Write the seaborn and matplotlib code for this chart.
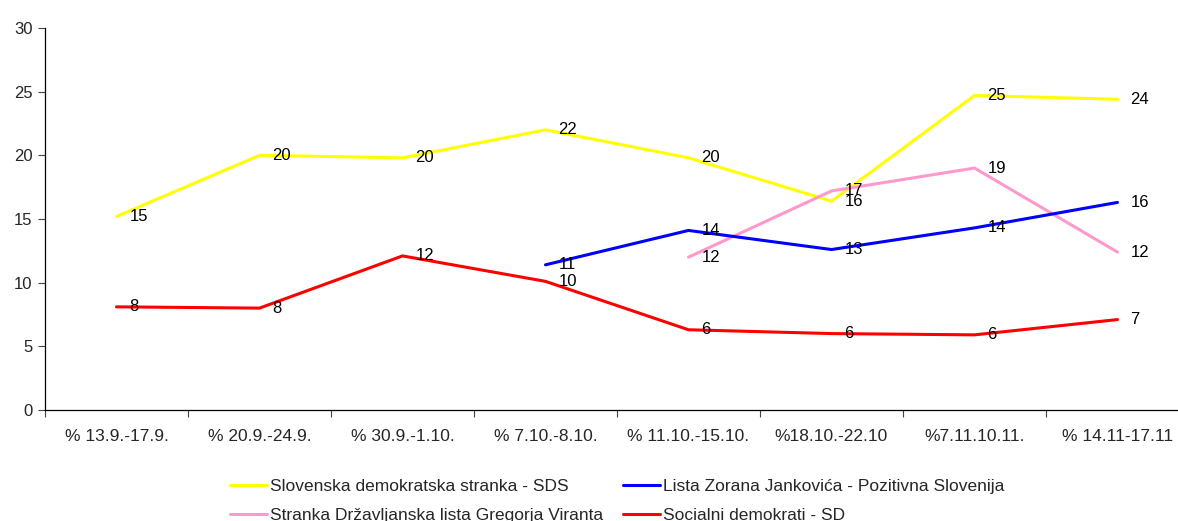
import numpy as np
import pandas as pd
import matplotlib
matplotlib.use('Agg')
import matplotlib.pyplot as plt
import seaborn as sns

# ── Data ──────────────────────────────────────────────────
periods = ['% 13.9.-17.9.', '% 20.9.-24.9.', '% 30.9.-1.10.', '% 7.10.-8.10.',
           '% 11.10.-15.10.', '%18.10.-22.10', '%7.11.10.11.', '% 14.11-17.11']

sds    = [15.2, 20.0, 19.8, 22.0, 19.8, 16.4, 24.7, 24.4]
virant = [np.nan, np.nan, np.nan, np.nan, 12.0, 17.2, 19.0, 12.4]
pos    = [np.nan, np.nan, np.nan, 11.4, 14.1, 12.6, 14.3, 16.3]
sd     = [8.1, 8.0, 12.1, 10.1, 6.3, 6.0, 5.9, 7.1]

series = [
    ('Slovenska demokratska stranka - SDS', sds, '#FFFF00'),
    ('Stranka Državljanska lista Gregorja Viranta', virant, '#FF99CC'),
    ('Lista Zorana Jankovića - Pozitivna Slovenija', pos, '#0000FF'),
    ('Socialni demokrati - SD', sd, '#FF0000'),
]

# ── Style ─────────────────────────────────────────────────
sns.set_style('white')
plt.rcParams['font.family'] = ['Liberation Sans', 'DejaVu Sans']

fig = plt.figure(figsize=(11.78, 5.21), dpi=100)
ax = fig.add_axes([0.0382, 0.2131, 0.9711, 0.7332])

x = np.arange(len(periods))
for name, vals, color in series:
    df = pd.DataFrame({'x': x, 'y': vals}).dropna()
    sns.lineplot(data=df, x='x', y='y', ax=ax, color=color, linewidth=2.2,
                 label=name)
    for xi, yi in zip(df['x'], df['y']):
        ax.annotate(f"{yi:.0f}", (xi, yi), xytext=(13, 0),
                    textcoords='offset pixels', ha='left', va='center',
                    fontsize=12, color='black')

# ── Axes ──────────────────────────────────────────────────
ax.set_xlim(-0.5, len(periods) - 0.5)
ax.set_ylim(0, 30)
ax.set_yticks(range(0, 31, 5))
ax.set_xticks(x)
ax.set_xticklabels(periods, fontsize=12.5)
ax.set_xticks(np.arange(-0.5, len(periods)), minor=True)
ax.tick_params(axis='x', which='major', length=0, pad=14)
ax.tick_params(axis='x', which='minor', length=5, width=0.8, color='#444444',
               direction='out', bottom=True)
ax.tick_params(axis='y', length=5, width=0.8, color='#444444',
               direction='out', left=True, labelsize=12, pad=4)
ax.set_xlabel('')
ax.set_ylabel('')
for s in ['top', 'right']:
    ax.spines[s].set_visible(False)
for s in ['left', 'bottom']:
    ax.spines[s].set_color('black')
    ax.spines[s].set_linewidth(0.9)

# ── Legend ────────────────────────────────────────────────
handles, labels = ax.get_legend_handles_labels()
ax.get_legend().remove()
fig.legend(handles, labels, ncol=2, loc='upper left',
           bbox_to_anchor=(0.195, 0.0806), frameon=False, fontsize=12.5,
           handlelength=2.13, handletextpad=0.17, columnspacing=1.15,
           labelspacing=0.77, borderaxespad=0, borderpad=0)

plt.savefig('out.png', dpi=100)
